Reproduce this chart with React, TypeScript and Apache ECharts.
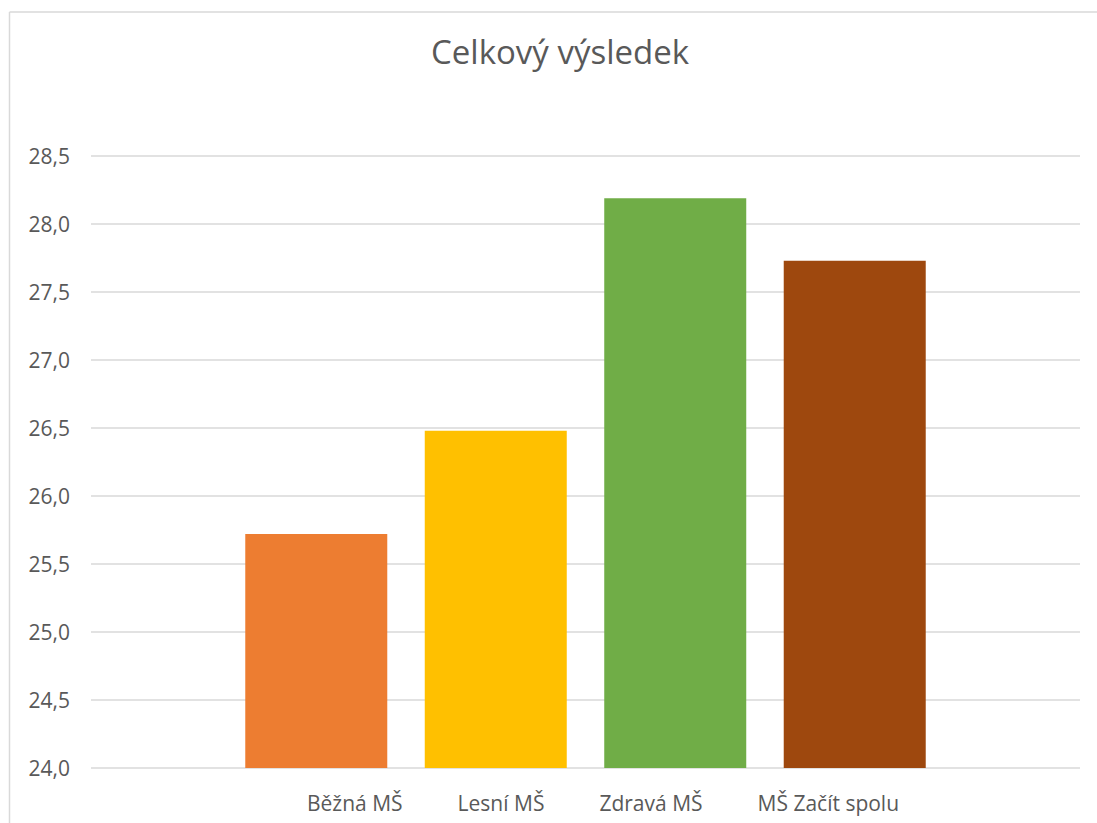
import React, { useEffect, useRef } from "react";
import * as echarts from "echarts";

const title = "Celkový výsledek";
const seriesNames = ["Běžná MŠ", "Lesní MŠ", "Zdravá MŠ", "MŠ Začít spolu"];
const seriesValues = [25.72, 26.48, 28.19, 27.73];
const seriesColors = ["#ED7D31", "#FFC000", "#70AD47", "#9E480E"];
const yMin = 24;
const yMax = 28.5;
const yInterval = 0.5;

export default function App() {
  const ref = useRef<HTMLDivElement>(null);
  useEffect(() => {
    if (!ref.current) return;
    const chart = echarts.init(ref.current, undefined, { renderer: "svg" });
    const font = "'Open Sans', 'Noto Sans', sans-serif";
    chart.setOption({
      animation: false,
      textStyle: { fontFamily: font },
      title: {
        text: title,
        left: 426,
        top: 30,
        textStyle: { fontFamily: font, fontSize: 33, fontWeight: "normal", color: "#595959" },
      },
      legend: {
        data: seriesNames,
        left: 297,
        top: 787,
        itemWidth: 0,
        itemHeight: 0,
        itemGap: 50,
        textStyle: { fontFamily: font, fontSize: 21, color: "#595959" },
        selectedMode: false,
      },
      grid: { left: 91, right: 17, top: 156, bottom: 55, containLabel: false },
      xAxis: {
        type: "category",
        data: [""],
        axisLine: { show: false },
        axisTick: { show: false },
        axisLabel: { show: false },
      },
      yAxis: {
        type: "value",
        min: yMin,
        max: yMax,
        interval: yInterval,
        axisLine: { show: false },
        axisTick: { show: false },
        splitLine: { lineStyle: { color: "#D9D9D9", width: 1.5 } },
        axisLabel: {
          margin: 21,
          fontFamily: font,
          fontSize: 21,
          color: "#595959",
          formatter: (v: number) => v.toFixed(1).replace(".", ","),
        },
      },
      graphic: [
        { type: "line", shape: { x1: 9.5, y1: 12, x2: 9.5, y2: 823 }, style: { stroke: "#D9D9D9", lineWidth: 1.5 } },
        { type: "line", shape: { x1: 9.5, y1: 12, x2: 1097, y2: 12 }, style: { stroke: "#D9D9D9", lineWidth: 1.5 } },
      ],
      series: seriesNames.map((name, i) => ({
        name,
        type: "bar",
        data: [seriesValues[i]],
        barWidth: 142,
        barGap: "26.4%",
        itemStyle: { color: seriesColors[i] },
      })),
    });
    return () => chart.dispose();
  }, []);
  return <div ref={ref} style={{ position: "fixed", left: 0, top: 0, width: 1097, height: 823, background: "#fff" }} />;
}
